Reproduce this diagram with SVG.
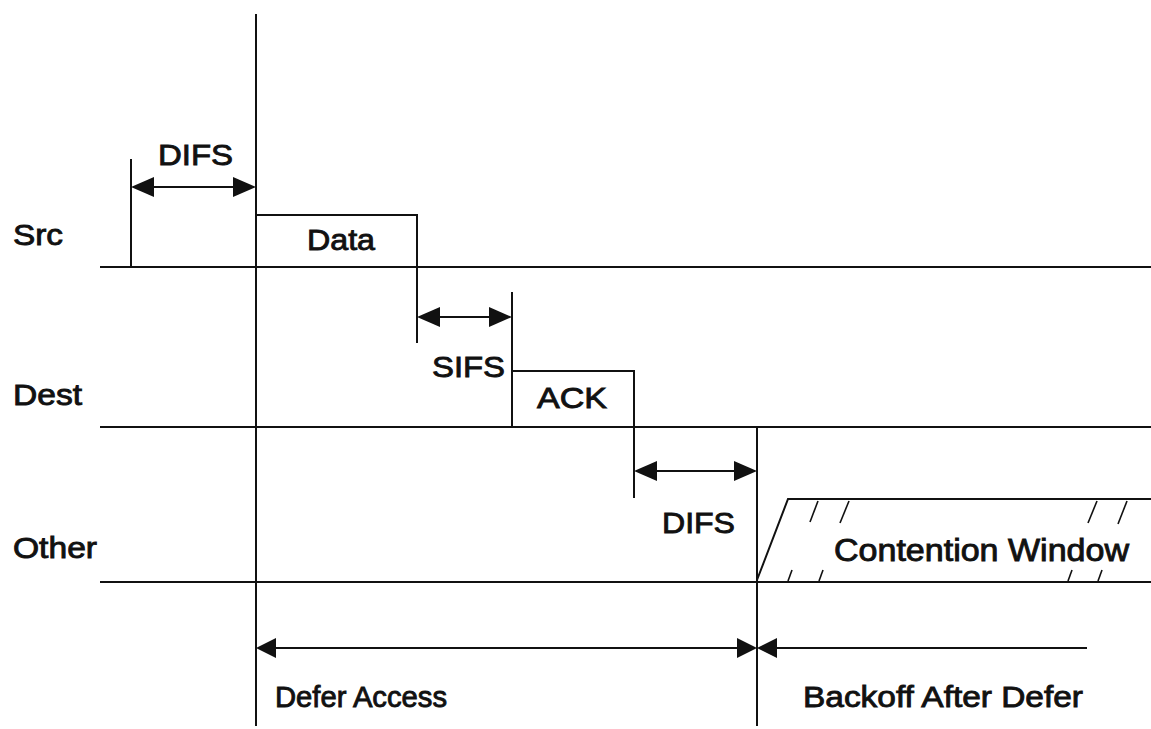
<svg xmlns="http://www.w3.org/2000/svg" width="1151" height="729" viewBox="0 0 1151 729">
<defs>
<style>
.ln{stroke:#111;stroke-width:2;fill:none}
.th{stroke:#111;stroke-width:1.6;fill:none}
.ah{fill:#111}
text{font-family:"Liberation Sans",Arial,sans-serif;fill:#111;stroke:#111;stroke-width:0.9}
.lbl{font-size:30px}
.big{font-size:31px}
</style>
</defs>
<rect width="1151" height="729" fill="#fff"/>
<g id="connectors">
<line class="ln" x1="256" y1="14" x2="256" y2="726"/>
<line class="ln" x1="757" y1="428" x2="757" y2="726"/>
<line class="ln" x1="100" y1="267" x2="1151" y2="267"/>
<line class="ln" x1="100" y1="427" x2="1151" y2="427"/>
<line class="ln" x1="100" y1="582" x2="1151" y2="582"/>
<line class="ln" x1="131" y1="159" x2="131" y2="267"/>
<line class="ln" x1="140" y1="187" x2="246" y2="187"/>
<polygon class="ah" points="131,187 154,177 154,197"/>
<polygon class="ah" points="256,187 233,177 233,197"/>
<line class="ln" x1="426" y1="317" x2="502" y2="317"/>
<polygon class="ah" points="417,317 440,307 440,327"/>
<polygon class="ah" points="512,317 489,307 489,327"/>
<line class="ln" x1="643" y1="471" x2="748" y2="471"/>
<polygon class="ah" points="634,471 657,461 657,481"/>
<polygon class="ah" points="757,471 734,461 734,481"/>
<line class="ln" x1="265" y1="648" x2="748" y2="648"/>
<polygon class="ah" points="256,648 276,638 276,658"/>
<polygon class="ah" points="757,648 737,638 737,658"/>
<line class="ln" x1="766" y1="648" x2="1087" y2="648"/>
<polygon class="ah" points="757,648 777,638 777,658"/>
</g>
<g id="data">
<polyline class="ln" points="256,215 417,215 417,343"/>
<text class="lbl" x="307" y="250" textLength="68" lengthAdjust="spacingAndGlyphs">Data</text>
</g>
<g id="ack">
<line class="ln" x1="512" y1="292" x2="512" y2="427"/>
<polyline class="ln" points="512,371 634,371 634,498"/>
<text class="lbl" x="537" y="408" textLength="70" lengthAdjust="spacingAndGlyphs">ACK</text>
</g>
<g id="contention">
<polyline class="ln" points="757,580 788,499 1151,499"/>
<line class="th" x1="810" y1="522" x2="818" y2="501"/>
<line class="th" x1="840" y1="523" x2="849" y2="501"/>
<line class="th" x1="1088" y1="523" x2="1097" y2="501"/>
<line class="th" x1="1118" y1="524" x2="1127" y2="501"/>
<line class="th" x1="788" y1="581" x2="792" y2="570"/>
<line class="th" x1="819" y1="581" x2="823" y2="570"/>
<line class="th" x1="1068" y1="581" x2="1072" y2="570"/>
<line class="th" x1="1098" y1="581" x2="1102" y2="570"/>
<text class="big" x="834" y="561" textLength="295" lengthAdjust="spacingAndGlyphs">Contention Window</text>
</g>
<g id="labels">
<text class="lbl" x="13" y="245" textLength="50" lengthAdjust="spacingAndGlyphs">Src</text>
<text class="lbl" x="13" y="405" textLength="69" lengthAdjust="spacingAndGlyphs">Dest</text>
<text class="lbl" x="13" y="558" textLength="84" lengthAdjust="spacingAndGlyphs">Other</text>
<text class="lbl" x="158" y="165" textLength="75" lengthAdjust="spacingAndGlyphs">DIFS</text>
<text class="lbl" x="432" y="377" textLength="73" lengthAdjust="spacingAndGlyphs">SIFS</text>
<text class="lbl" x="662" y="533" textLength="73" lengthAdjust="spacingAndGlyphs">DIFS</text>
<text class="lbl" x="275" y="707" textLength="172" lengthAdjust="spacingAndGlyphs">Defer Access</text>
<text class="lbl" x="803" y="707" textLength="280" lengthAdjust="spacingAndGlyphs">Backoff After Defer</text>
</g>
</svg>
